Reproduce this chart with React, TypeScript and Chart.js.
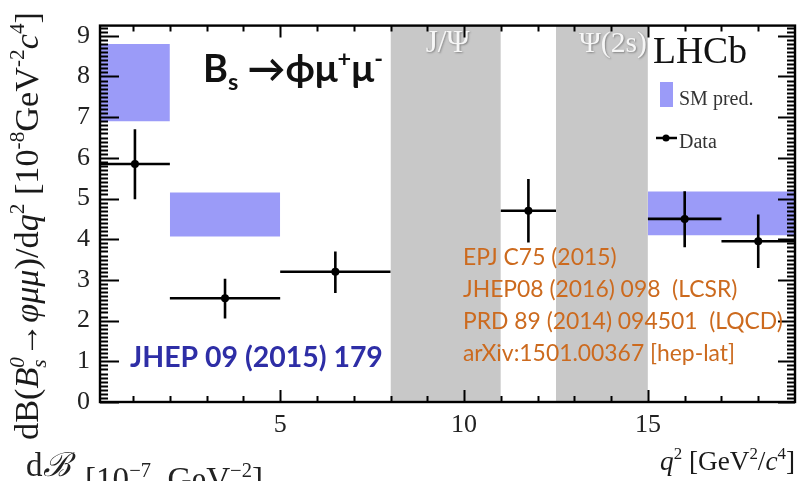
import React, { useEffect, useRef } from 'react';
import { Chart, registerables } from 'chart.js';

Chart.register(...registerables);

// ---------- data ----------
const qCenter = [1.05, 3.5, 6.5, 11.75, 16, 18];
const binLo = [0.1, 2, 5, 11, 15, 17];
const binHi = [2, 5, 8, 12.5, 17, 19];
const dataVal = [5.85, 2.55, 3.2, 4.7, 4.5, 3.95];
const errUp = [0.85, 0.48, 0.5, 0.78, 0.68, 0.66];
const errDn = [0.87, 0.5, 0.52, 0.78, 0.7, 0.66];

const smLo = [0.1, 2, 15];
const smHi = [2, 5, 19];
const smTop = [8.8, 5.15, 5.17];
const smBot = [6.9, 4.07, 4.1];

const vetoLo = [8, 12.5];
const vetoHi = [11, 15];
const vetoLabels = ['J/Ψ', 'Ψ(2s)'];

const xTickLabels = [5, 10, 15];
const yTickLabels = [0, 1, 2, 3, 4, 5, 6, 7, 8, 9];

const refLines = [
  'EPJ C75 (2015)',
  'JHEP08 (2016) 098  (LCSR)',
  'PRD 89 (2014) 094501  (LQCD)',
  'arXiv:1501.00367 [hep-lat]',
];

const X_MIN = 0.1;
const X_MAX = 19;
const Y_MIN = 0;
const Y_MAX = 9.25;

const BLUE = '#9b9bf8';
const GRAY = '#c8c8c8';
const SERIF = '"Liberation Serif", "DejaVu Serif", serif';
const SANS = 'Lato, "Open Sans", "Liberation Sans", sans-serif';

// ---------- rich text helpers ----------
type Seg = { t: string; s?: 'sup' | 'sub'; i?: boolean; stack?: boolean };

function fontFor(seg: Seg, size: number, family: string, bold: boolean) {
  const sz = seg.s ? size * 0.62 : size;
  return `${seg.i ? 'italic ' : ''}${bold ? 'bold ' : ''}${sz}px ${family}`;
}

function layoutRich(ctx: CanvasRenderingContext2D, segs: Seg[], size: number, family: string, bold: boolean) {
  let x = 0;
  let prevStart = 0;
  let prevW = 0;
  const items: { seg: Seg; x: number; dy: number; font: string }[] = [];
  for (const seg of segs) {
    const font = fontFor(seg, size, family, bold);
    ctx.font = font;
    const w = ctx.measureText(seg.t).width;
    const start = seg.stack ? prevStart : x;
    const dy = seg.s === 'sup' ? -size * 0.4 : seg.s === 'sub' ? size * 0.22 : 0;
    items.push({ seg, x: start, dy, font });
    if (seg.stack) {
      prevW = Math.max(prevW, w);
      x = prevStart + prevW;
    } else {
      prevStart = start;
      prevW = w;
      x = start + w;
    }
  }
  return { items, width: x };
}

function fitSize(ctx: CanvasRenderingContext2D, segs: Seg[], family: string, bold: boolean, target: number) {
  const base = 20;
  const { width } = layoutRich(ctx, segs, base, family, bold);
  return (base * target) / width;
}

function drawRich(
  ctx: CanvasRenderingContext2D,
  segs: Seg[],
  x: number,
  y: number,
  size: number,
  family: string,
  bold: boolean,
  color: string,
  align: 'left' | 'right' | 'center' = 'left'
) {
  const { items, width } = layoutRich(ctx, segs, size, family, bold);
  const x0 = align === 'right' ? x - width : align === 'center' ? x - width / 2 : x;
  ctx.fillStyle = color;
  ctx.textAlign = 'left';
  ctx.textBaseline = 'alphabetic';
  for (const it of items) {
    ctx.font = it.font;
    ctx.fillText(it.seg.t, x0 + it.x, y + it.dy);
  }
}

const yTitle: Seg[] = [
  { t: 'dB(' },
  { t: 'B', i: true },
  { t: 's', s: 'sub', i: true },
  { t: '0', s: 'sup', i: true, stack: true },
  { t: '→' },
  { t: 'φμμ', i: true },
  { t: ')/d' },
  { t: 'q', i: true },
  { t: '2', s: 'sup' },
  { t: ' [10' },
  { t: '-8', s: 'sup' },
  { t: 'GeV' },
  { t: '-2', s: 'sup' },
  { t: 'c', i: true },
  { t: '4', s: 'sup' },
  { t: ']' },
];

const xTitle: Seg[] = [
  { t: 'q', i: true },
  { t: '2', s: 'sup' },
  { t: ' [GeV' },
  { t: '2', s: 'sup' },
  { t: '/' },
  { t: 'c', i: true },
  { t: '4', s: 'sup' },
  { t: ']' },
];

const decayLabel: Seg[] = [
  { t: 'B' },
  { t: 's', s: 'sub' },
  { t: ' →' },
  { t: 'ϕμ' },
  { t: '+', s: 'sup' },
  { t: 'μ' },
  { t: '-', s: 'sup' },
];

const bottomUnit: Seg[] = [
  { t: '[10' },
  { t: '−7', s: 'sup' },
  { t: '  GeV' },
  { t: '−2', s: 'sup' },
  { t: ']' },
];

// ---------- plugin for frame, inward ticks and annotations ----------
const decor = {
  id: 'decor',
  afterDatasetsDraw(chart: any) {
    const { ctx, chartArea: a, scales } = chart;
    const xs = scales.x;
    const ys = scales.y;
    ctx.save();

    // veto labels
    ctx.shadowColor = 'rgba(0,0,0,0.35)';
    ctx.shadowBlur = 2;
    ctx.shadowOffsetX = 1;
    ctx.shadowOffsetY = 1;
    const v0 = fitSize(ctx, [{ t: vetoLabels[0] }], SERIF, false, 44);
    drawRich(ctx, [{ t: vetoLabels[0] }], xs.getPixelForValue((vetoLo[0] + vetoHi[0]) / 2) + 2, 52, v0, SERIF, false, '#f6f6f6', 'center');
    const v1 = fitSize(ctx, [{ t: vetoLabels[1] }], SERIF, false, 68);
    drawRich(ctx, [{ t: vetoLabels[1] }], xs.getPixelForValue(vetoHi[1]) - 1, 52, v1, SERIF, false, '#f6f6f6', 'right');
    ctx.shadowColor = 'transparent';
    ctx.shadowBlur = 0;
    ctx.shadowOffsetX = 0;
    ctx.shadowOffsetY = 0;

    // frame
    ctx.strokeStyle = '#000';
    ctx.lineWidth = 2.4;
    ctx.strokeRect(a.left, a.top, a.right - a.left, a.bottom - a.top);

    // inward ticks
    ctx.lineWidth = 2;
    ctx.beginPath();
    for (let k = 0; k / 10 <= Y_MAX + 1e-9; k++) {
      const y = Math.round(ys.getPixelForValue(k / 10)) + 0.5;
      const major = k % 10 === 0;
      const lenL = major ? 19 : 8;
      const lenR = major ? 17 : 8;
      ctx.moveTo(a.left, y);
      ctx.lineTo(a.left + lenL, y);
      ctx.moveTo(a.right, y);
      ctx.lineTo(a.right - lenR, y);
    }
    for (let k = 1; k < X_MAX; k++) {
      const x = Math.round(xs.getPixelForValue(k)) + 0.5;
      const major = k % 5 === 0;
      const len = major ? 12 : 6;
      ctx.moveTo(x, a.bottom);
      ctx.lineTo(x, a.bottom - len);
      ctx.moveTo(x, a.top);
      ctx.lineTo(x, a.top + len);
    }
    ctx.stroke();
    ctx.restore();
  },
  afterDraw(chart: any) {
    const { ctx } = chart;
    ctx.save();

    // y-axis title (rotated)
    const ys = fitSize(ctx, yTitle, SERIF, false, 428);
    ctx.save();
    ctx.translate(38, 440);
    ctx.rotate(-Math.PI / 2);
    drawRich(ctx, yTitle, 0, 0, ys, SERIF, false, '#1a1a1a');
    ctx.restore();

    // x-axis title
    const xsz = fitSize(ctx, xTitle, SERIF, false, 135);
    drawRich(ctx, xTitle, 795, 470, xsz, SERIF, false, '#1a1a1a', 'right');

    // decay label
    const dsz = fitSize(ctx, decayLabel, SANS, true, 180);
    drawRich(ctx, decayLabel, 203, 82, dsz, SANS, true, '#111');

    // LHCb
    const lsz = fitSize(ctx, [{ t: 'LHCb' }], SERIF, false, 94);
    drawRich(ctx, [{ t: 'LHCb' }], 653, 63, lsz, SERIF, false, '#111');

    // legend
    ctx.fillStyle = BLUE;
    ctx.fillRect(660, 82, 13, 25);
    ctx.font = `20px ${SERIF}`;
    ctx.fillStyle = '#333';
    ctx.textAlign = 'left';
    ctx.textBaseline = 'alphabetic';
    ctx.fillText('SM pred.', 679, 105);
    ctx.strokeStyle = '#000';
    ctx.lineWidth = 2.5;
    ctx.beginPath();
    ctx.moveTo(656, 138);
    ctx.lineTo(677, 138);
    ctx.stroke();
    ctx.beginPath();
    ctx.arc(666, 138, 3.5, 0, Math.PI * 2);
    ctx.fillStyle = '#000';
    ctx.fill();
    ctx.fillStyle = '#333';
    ctx.fillText('Data', 679, 148);

    // JHEP reference
    const jsz = fitSize(ctx, [{ t: 'JHEP 09 (2015) 179' }], SANS, true, 253);
    drawRich(ctx, [{ t: 'JHEP 09 (2015) 179' }], 130, 367, jsz, SANS, true, '#2e2ea6');

    // orange references
    const osz = fitSize(ctx, [{ t: refLines[2] }], SANS, false, 320);
    refLines.forEach((ln, i) => {
      drawRich(ctx, [{ t: ln }], 463, 265 + i * 32, osz, SANS, false, '#cc6a1e');
    });

    // cropped text at the bottom
    drawRich(ctx, [{ t: 'd' }, { t: 'ℬ', i: true }], 26, 476, 33, SERIF, false, '#222');
    const bsz = fitSize(ctx, bottomUnit, SERIF, false, 178);
    drawRich(ctx, bottomUnit, 85, 490, bsz, SERIF, false, '#222');

    ctx.restore();
  },
};

export default function App() {
  const ref = useRef<HTMLCanvasElement | null>(null);

  useEffect(() => {
    if (!ref.current) return;

    const datasets: any[] = [];

    // data points
    datasets.push({
      type: 'scatter',
      label: 'Data',
      data: qCenter.map((q, i) => ({ x: q, y: dataVal[i] })),
      pointRadius: 4,
      pointBackgroundColor: '#000',
      pointBorderWidth: 0,
      showLine: false,
      order: 0,
    });

    // horizontal error bars
    const xe: any[] = [];
    binLo.forEach((lo, i) => {
      xe.push({ x: lo, y: dataVal[i] }, { x: binHi[i], y: dataVal[i] }, { x: binHi[i], y: null });
    });
    datasets.push({
      type: 'line',
      data: xe,
      borderColor: '#000',
      borderWidth: 2.6,
      pointRadius: 0,
      spanGaps: false,
      fill: false,
      order: 1,
    });

    // vertical error bars
    const ye: any[] = [];
    qCenter.forEach((q, i) => {
      ye.push({ x: q, y: dataVal[i] - errDn[i] }, { x: q, y: dataVal[i] + errUp[i] }, { x: q, y: null });
    });
    datasets.push({
      type: 'line',
      data: ye,
      borderColor: '#000',
      borderWidth: 2.6,
      pointRadius: 0,
      spanGaps: false,
      fill: false,
      order: 1,
    });

    // SM prediction boxes
    smLo.forEach((lo, i) => {
      datasets.push({
        type: 'line',
        data: [
          { x: lo, y: smTop[i] },
          { x: smHi[i], y: smTop[i] },
        ],
        borderWidth: 0,
        borderColor: 'rgba(0,0,0,0)',
        pointRadius: 0,
        backgroundColor: BLUE,
        fill: '+1',
        order: 2,
      });
      datasets.push({
        type: 'line',
        data: [
          { x: lo, y: smBot[i] },
          { x: smHi[i], y: smBot[i] },
        ],
        borderWidth: 0,
        borderColor: 'rgba(0,0,0,0)',
        pointRadius: 0,
        fill: false,
        order: 2,
      });
    });

    // vetoed resonance regions
    vetoLo.forEach((lo, i) => {
      datasets.push({
        type: 'line',
        data: [
          { x: lo, y: Y_MAX },
          { x: vetoHi[i], y: Y_MAX },
        ],
        borderWidth: 0,
        borderColor: 'rgba(0,0,0,0)',
        pointRadius: 0,
        backgroundColor: GRAY,
        fill: 'origin',
        order: 3,
      });
    });

    const chart = new Chart(ref.current, {
      type: 'line',
      data: { datasets },
      options: {
        responsive: false,
        animation: false,
        devicePixelRatio: 1,
        layout: { padding: { left: 0, right: 11, top: 12, bottom: 0 } },
        plugins: { legend: { display: false }, tooltip: { enabled: false } },
        scales: {
          x: {
            type: 'linear',
            min: X_MIN,
            max: X_MAX,
            grid: { display: false, drawTicks: false },
            border: { display: false },
            ticks: {
              padding: 8,
              color: '#222',
              font: { family: SERIF, size: 26 },
              callback: (v: any) => String(v),
            },
            afterBuildTicks: (s: any) => {
              s.ticks = xTickLabels.map((v) => ({ value: v }));
            },
            afterFit: (s: any) => {
              s.height = 79;
            },
          },
          y: {
            type: 'linear',
            min: Y_MIN,
            max: Y_MAX,
            grid: { display: false, drawTicks: false },
            border: { display: false },
            ticks: {
              padding: 10,
              color: '#222',
              font: { family: SERIF, size: 26 },
              callback: (v: any) => String(v),
            },
            afterBuildTicks: (s: any) => {
              s.ticks = yTickLabels.map((v) => ({ value: v }));
            },
            afterFit: (s: any) => {
              s.width = 100;
            },
          },
        },
      } as any,
      plugins: [decor],
    });

    return () => chart.destroy();
  }, []);

  return (
    <div style={{ position: 'absolute', left: 0, top: 0, width: 806, height: 481, background: '#fff' }}>
      <canvas ref={ref} width={806} height={481} />
    </div>
  );
}
